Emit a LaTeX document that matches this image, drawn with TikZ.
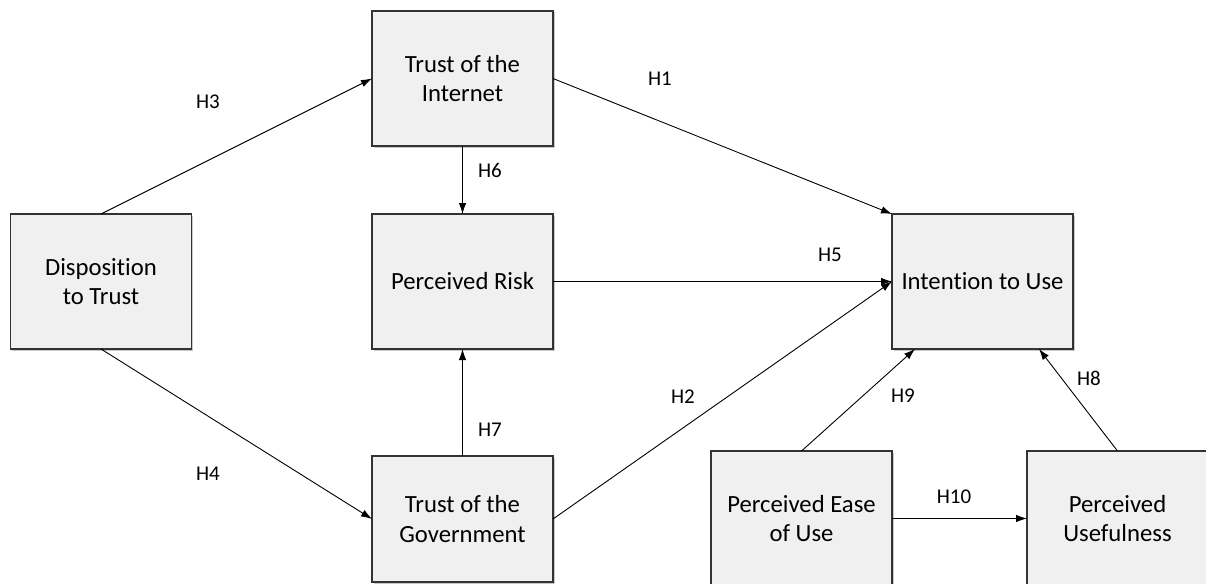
\documentclass[tikz,border=0pt]{standalone}
\usepackage{fontspec}
\setmainfont[Ligatures={NoCommon}]{Carlito}
\usetikzlibrary{arrows.meta,calc,shadows}
\tikzset{
  boxnode/.style={draw=black!80, line width=1.2pt, fill=black!6, minimum width=181pt, minimum height=135pt,
    inner sep=0pt, outer sep=0pt, align=center, font=\fontsize{24.7}{29.5}\selectfont,
    drop shadow={shadow xshift=1.5pt, shadow yshift=-1.5pt, fill=black!35, opacity=0.6}},
  hlabel/.style={font=\fontsize{21}{24}\selectfont, inner sep=0pt},
  conn/.style={line width=0.9pt, draw=black, -{Latex[length=11pt,width=7.5pt]}}
}
\begin{document}
\begin{tikzpicture}[x=1pt,y=-1pt]
\clip (0,0) rectangle (1206,583);
\fill[white] (0,0) rectangle (1206,583);
\node[boxnode] (dis) at (101,281.5) {Disposition\\to Trust};
\node[boxnode] (int) at (462.5,78.5) {Trust of the\\Internet};
\node[boxnode] (risk) at (462.5,281.5) {Perceived Risk};
\node[boxnode, minimum height=126pt] (gov) at (462.5,519) {Trust of the\\Government};
\node[boxnode] (itu) at (982.5,281.5) {Intention to Use};
\node[boxnode] (peou) at (801.5,518.5) {Perceived Ease\\of Use};
\node[boxnode] (pu) at (1117.5,518.5) {Perceived\\Usefulness};

\coordinate (itu9) at ($(itu.south west)+(23,0)$);
\coordinate (itu8) at ($(itu.south east)+(-34,0)$);

\draw[conn] (dis.north) -- (int.west);
\draw[conn] (dis.south) -- (gov.west);
\draw[conn] (int.east) -- (itu.north west);
\draw[conn] (int.south) -- (risk.north);
\draw[conn] (gov.north) -- (risk.south);
\draw[conn] (risk.east) -- (itu.west);
\draw[conn] (gov.east) -- (itu.west);
\draw[conn] (peou.north) -- (itu9);
\draw[conn] (pu.north) -- (itu8);
\draw[conn] (peou.east) -- (pu.west);

\node[hlabel] (l1) at (660,79) {H1};
\node[hlabel] (l2) at (683,397) {H2};
\node[hlabel] (l3) at (208,102) {H3};
\node[hlabel] (l4) at (208,474) {H4};
\node[hlabel] (l5) at (830,255) {H5};
\node[hlabel] (l6) at (490,170) {H6};
\node[hlabel] (l7) at (490,430) {H7};
\node[hlabel] (l8) at (1089,378) {H8};
\node[hlabel] (l9) at (903,396) {H9};
\node[hlabel] (l10) at (954,497) {H10};
\end{tikzpicture}
\end{document}
